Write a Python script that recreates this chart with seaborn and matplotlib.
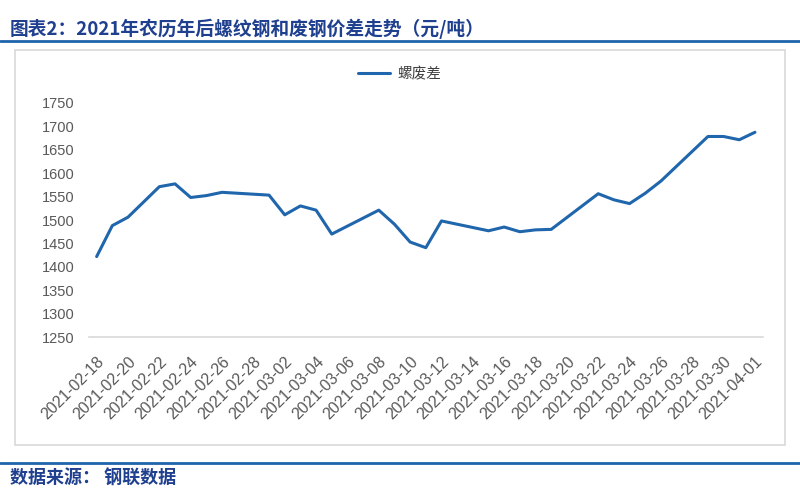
import pandas as pd
import seaborn as sns
import matplotlib.pyplot as plt
import matplotlib.dates as mdates
from matplotlib.lines import Line2D
from matplotlib.patches import Rectangle

# trading days after the 2021 lunar new year and the rebar - scrap spread (元/吨)
dates = ['2021-02-18', '2021-02-19', '2021-02-20', '2021-02-22', '2021-02-23',
         '2021-02-24', '2021-02-25', '2021-02-26', '2021-03-01', '2021-03-02',
         '2021-03-03', '2021-03-04', '2021-03-05', '2021-03-08', '2021-03-09',
         '2021-03-10', '2021-03-11', '2021-03-12', '2021-03-15', '2021-03-16',
         '2021-03-17', '2021-03-18', '2021-03-19', '2021-03-22', '2021-03-23',
         '2021-03-24', '2021-03-25', '2021-03-26', '2021-03-29', '2021-03-30',
         '2021-03-31', '2021-04-01']
spread = [1422, 1488, 1506, 1571, 1577,
          1548, 1552, 1559, 1553, 1511,
          1530, 1521, 1470, 1521, 1491,
          1453, 1441, 1498, 1477, 1485,
          1475, 1479, 1480, 1556, 1543,
          1535, 1557, 1583, 1678, 1678,
          1671, 1687]
series_name = '螺废差'
y_ticks = [1250, 1300, 1350, 1400, 1450, 1500, 1550, 1600, 1650, 1700, 1750]

df = pd.DataFrame({'date': pd.to_datetime(dates), 'value': spread})

sns.set_style('white')
plt.rcParams['font.family'] = ['Liberation Sans', 'Noto Sans CJK SC']

fig = plt.figure(figsize=(8, 5), dpi=100)
ax = fig.add_axes([0.111, 0.3254, 0.8425, 0.4692])

sns.lineplot(data=df, x='date', y='value', ax=ax, color='#2066AC',
             linewidth=2.2, label=series_name)

start = df['date'].min()
end = df['date'].max()
half = pd.Timedelta(hours=12)
ax.set_xlim(start - half, end + half)
ax.set_ylim(y_ticks[0], y_ticks[-1])
ax.set_yticks(y_ticks)

major = pd.date_range(start, end, freq='2D')
ax.set_xticks(major)
ax.xaxis.set_major_formatter(mdates.DateFormatter('%Y-%m-%d'))
ax.set_xticks(major - half, minor=True)
ax.tick_params(axis='x', which='major', length=0, pad=12, labelsize=11.5,
               colors='#595959', labelrotation=45)
ax.tick_params(axis='x', which='minor', length=5, color='#D9D9D9', width=1)
ax.tick_params(axis='y', length=0, labelsize=10.5, colors='#595959', pad=10)
for lbl in ax.get_xticklabels():
    lbl.set_ha('right')
    lbl.set_rotation_mode('anchor')

ax.set_xlabel('')
ax.set_ylabel('')
for side in ['top', 'right', 'left']:
    ax.spines[side].set_visible(False)
ax.spines['bottom'].set_color('#D9D9D9')
ax.spines['bottom'].set_linewidth(1.2)

leg = ax.legend(loc='center', bbox_to_anchor=(0.5, 0.851),
                bbox_transform=fig.transFigure, frameon=False,
                fontsize=10.5, handlelength=2.2, handletextpad=0.5)
for t in leg.get_texts():
    t.set_color('#404040')

# chart frame
fig.add_artist(Rectangle((0.01875, 0.11), 0.9625, 0.79, transform=fig.transFigure,
                         fill=False, edgecolor='#D9D9D9', linewidth=1.2))

# header and footer
fig.text(0.012, 0.942, '图表2：2021年农历年后螺纹钢和废钢价差走势（元/吨）',
         fontsize=13.5, fontweight='bold', color='#1F3F8F', va='center',
         family=['Noto Sans CJK SC', 'DejaVu Sans'])
fig.add_artist(Line2D([0, 1], [0.918, 0.918], transform=fig.transFigure,
                      color='#1E64AA', linewidth=2))
fig.add_artist(Line2D([0, 1], [0.074, 0.074], transform=fig.transFigure,
                      color='#1E64AA', linewidth=2))
fig.text(0.012, 0.044, '数据来源： 钢联数据', fontsize=13, fontweight='bold',
         color='#1F3F8F', va='center', family=['Noto Sans CJK SC', 'DejaVu Sans'])

fig.savefig('out.png', dpi=100)
